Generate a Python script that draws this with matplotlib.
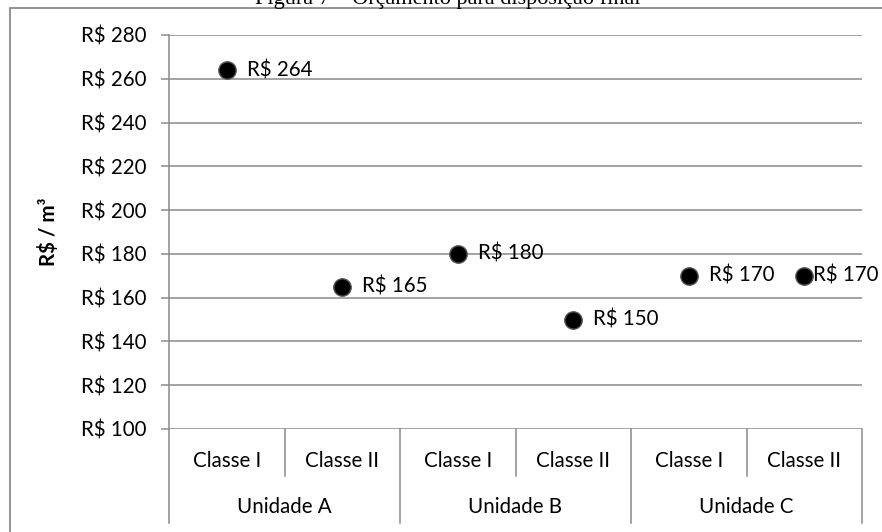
import numpy as np
import matplotlib.pyplot as plt
from matplotlib.patches import Rectangle

# data
units = ['Unidade A', 'Unidade B', 'Unidade C']
classes = ['Classe I', 'Classe II', 'Classe I', 'Classe II', 'Classe I', 'Classe II']
costs = [264, 165, 180, 150, 170, 170]
yticks = [100, 120, 140, 160, 180, 200, 220, 240, 260, 280]

plt.rcParams['font.family'] = ['Lato', 'DejaVu Sans']
gray = '#8a8a8a'
fs = 14.8

fig = plt.figure(figsize=(8.82, 5.32), dpi=100)
ax = fig.add_axes([169/882, 1-429/532, (862-169)/882, (429-35)/532])

# outer frame (cut off by figure edges)
fig.patches.append(Rectangle((10/882, -0.1), 1.2, 1 - 8/532 + 0.1, transform=fig.transFigure,
                             fill=False, edgecolor=gray, lw=1.3))
fig.text(0.508, 1 - 4/532, 'Figura 7 – Orçamento para disposição final', ha='center', va='baseline',
         fontsize=16, family='Liberation Serif')

x = np.arange(len(costs))
ax.plot(x, costs, 'o', ms=12.5, color='black', mec='#555555', mew=1, zorder=5)
for i, v in enumerate(costs):
    off = 9 if i == len(costs) - 1 else 20   # last label squeezed against the edge
    ax.annotate('R$ %d' % v, (i, v), xytext=(off*0.72, 0), textcoords='offset points',
                va='center', ha='left', fontsize=fs, annotation_clip=False)

ax.set_xlim(-0.5, 5.5)
ax.set_ylim(100, 280)
ax.set_yticks(yticks)
ax.set_yticklabels(['R$ %d' % t for t in yticks], fontsize=fs)
ax.tick_params(axis='y', length=5.8, width=1.1, color=gray, pad=10.5)
ax.set_xticks([])
ax.yaxis.grid(True, color=gray, lw=1.1)
ax.set_axisbelow(True)
for s in ['top', 'right', 'bottom']:
    ax.spines[s].set_visible(False)
ax.spines['left'].set_color(gray)
ax.spines['left'].set_linewidth(1.1)
ax.set_ylabel('R$ / m³', fontsize=fs, fontweight='bold', labelpad=16)

# grouped category axis
tr = ax.get_xaxis_transform()
r1 = -47 / 394
r2 = -94 / 394
for b in np.arange(-0.5, 6, 1):
    low = r2 if (b + 0.5) % 2 == 0 else r1
    ax.plot([b, b], [0, low], color=gray, lw=1.1, transform=tr, clip_on=False)
for i, c in enumerate(classes):
    ax.text(i, -32/394, c, transform=tr, ha='center', va='center', fontsize=fs)
for j, u in enumerate(units):
    ax.text(2*j + 0.5, -78/394, u, transform=tr, ha='center', va='center', fontsize=fs)

plt.savefig('out.png', dpi=100)
